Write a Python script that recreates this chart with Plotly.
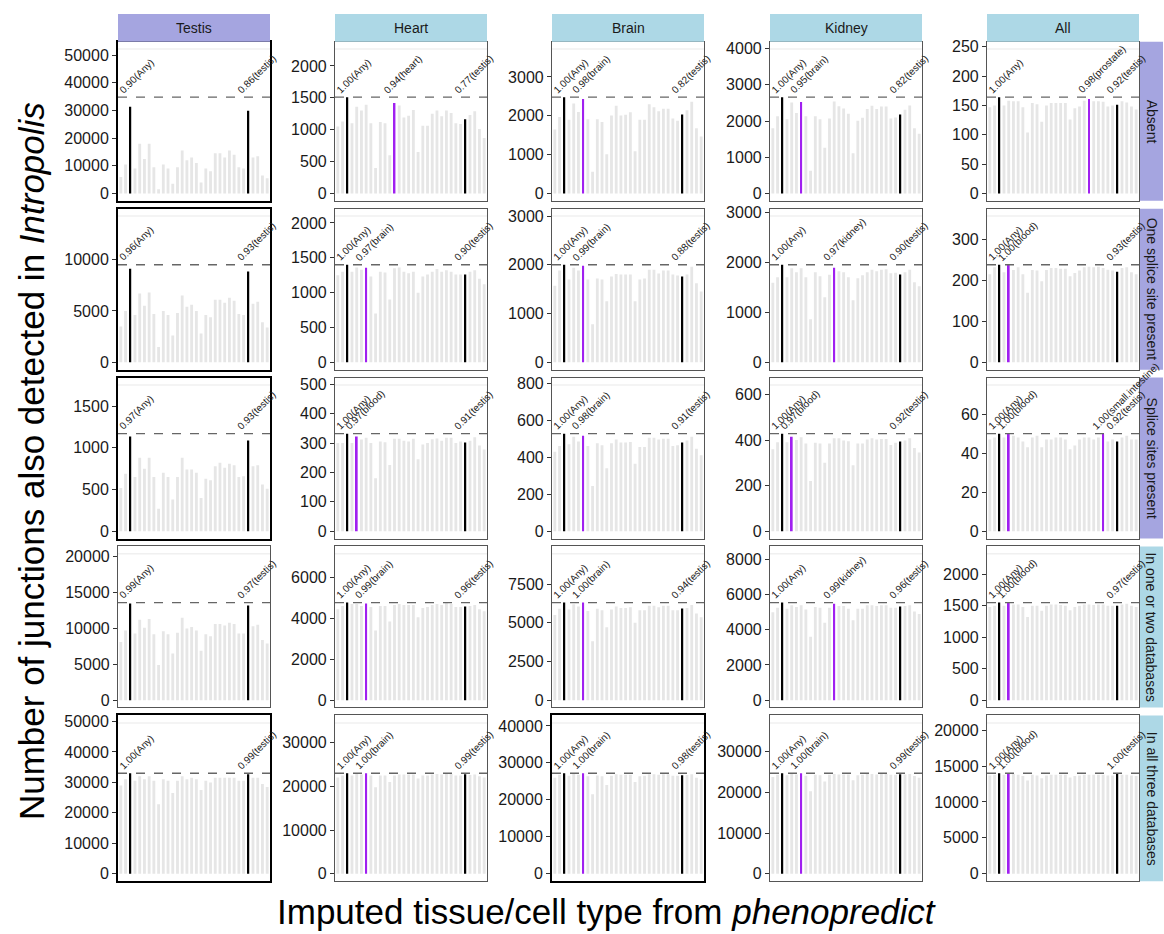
import plotly.graph_objects as go

# ---------------- data ----------------
tissues = ["adipose", "adrenal", "Any", "bladder", "blood", "blood.vessel", "brain", "breast",
           "cervix", "colon", "esophagus", "fallopian.tube", "heart", "kidney", "liver", "lung",
           "muscle", "nerve", "ovary", "pancreas", "pituitary", "prostate", "salivary", "skin",
           "small.intestine", "spleen", "stomach", "testis", "thyroid", "uterus", "vagina", "other"]

col_names = ["Testis", "Heart", "Brain", "Kidney", "All"]
row_names = ["Absent", "One splice site present", "Splice sites present",
             "In one or two databases", "In all three databases"]

# total junctions per panel (dashed line)
totals_absent = [34800, 1510, 2480, 2660, 164]
totals_one = [9500, 1400, 2000, 1950, 238]
totals_splice = [1170, 332, 527, 428, 50]
totals_oneortwo = [13600, 4770, 6300, 5550, 1550]
totals_allthree = [33000, 23000, 27200, 24700, 14000]

# y tick steps per panel
dtick_absent = [10000, 500, 1000, 1000, 50]
dtick_one = [5000, 500, 1000, 1000, 100]
dtick_splice = [500, 100, 200, 200, 20]
dtick_oneortwo = [5000, 2000, 2500, 2000, 500]
dtick_allthree = [10000, 10000, 10000, 10000, 5000]

# junction counts per imputed tissue
absent_testis = [6000, 10500, 31300, 9000, 18000, 12500, 18000, 9500, 1500, 10500, 9000, 3500, 9500, 15500, 12000, 13000,
                 11000, 4000, 9000, 8000, 14500, 14500, 13000, 15500, 14000, 9500, 9000, 29900, 13000, 13500, 6500, 5500]
absent_heart = [1050, 1130, 1510, 1100, 1360, 1300, 1390, 1100, 400, 1120, 1100, 600, 1420, 1380, 1190, 1220,
                1310, 650, 1060, 1060, 1250, 1300, 1210, 1300, 1260, 1100, 1090, 1163, 1230, 1290, 1010, 870]
absent_brain = [1650, 1970, 2480, 1900, 2320, 2100, 2430, 1910, 560, 1910, 1840, 1010, 2010, 2260, 2010, 2030,
                2090, 1090, 1900, 1900, 2300, 2220, 2120, 2180, 2180, 1930, 1870, 2034, 2140, 2360, 1680, 1470]
absent_kidney = [1800, 2130, 2660, 2050, 2510, 2220, 2527, 2130, 630, 2130, 2050, 1260, 2070, 2540, 2410, 2350,
                 2200, 1110, 2010, 2090, 2330, 2420, 2330, 2400, 2400, 2070, 2100, 2181, 2310, 2430, 1800, 1650]
absent_all = [147, 150, 164, 150, 158, 157, 157, 147, 104, 154, 152, 122, 150, 154, 154, 154,
              154, 126, 145, 148, 158, 161, 157, 157, 156, 148, 150, 151, 157, 155, 148, 143]

one_testis = [3500, 5000, 9120, 4600, 6700, 5500, 6800, 4700, 1500, 5000, 4600, 2600, 4800, 6500, 5400, 5600,
              5000, 2800, 4600, 4400, 6100, 6100, 5800, 6300, 6000, 4700, 4600, 8835, 5700, 5900, 3900, 3400]
one_heart = [1250, 1300, 1400, 1300, 1360, 1330, 1358, 1230, 700, 1300, 1290, 900, 1350, 1360, 1300, 1280,
             1300, 1000, 1230, 1260, 1300, 1340, 1300, 1320, 1300, 1260, 1260, 1260, 1300, 1320, 1200, 1120]
one_brain = [1570, 1880, 2000, 1700, 1940, 1880, 1980, 1700, 780, 1720, 1700, 1250, 1760, 1810, 1800, 1800,
             1800, 1250, 1700, 1720, 1900, 1900, 1820, 1880, 1880, 1800, 1780, 1760, 1800, 1960, 1620, 1450]
one_kidney = [1590, 1700, 1950, 1700, 1880, 1800, 1880, 1700, 860, 1800, 1720, 1300, 1750, 1890, 1820, 1800,
              1700, 1240, 1680, 1740, 1800, 1850, 1820, 1850, 1860, 1780, 1790, 1755, 1800, 1850, 1600, 1520]
one_all = [215, 232, 238, 220, 238, 225, 232, 215, 170, 225, 224, 198, 225, 230, 230, 228,
           228, 210, 218, 224, 232, 233, 232, 233, 230, 226, 224, 221, 230, 232, 220, 215]

splice_testis = [520, 690, 1135, 650, 880, 750, 880, 650, 270, 700, 650, 380, 650, 880, 740, 740,
                 700, 400, 630, 610, 780, 820, 760, 810, 790, 650, 660, 1088, 780, 790, 560, 510]
splice_heart = [300, 300, 332, 300, 322, 312, 318, 300, 180, 305, 303, 225, 315, 315, 308, 305,
                315, 245, 295, 300, 313, 316, 308, 318, 318, 300, 305, 302, 308, 320, 292, 278]
splice_brain = [430, 460, 527, 470, 510, 485, 516, 460, 245, 475, 465, 340, 475, 495, 480, 480,
                482, 365, 455, 455, 505, 505, 495, 500, 500, 460, 465, 480, 490, 510, 445, 410]
splice_kidney = [360, 390, 428, 390, 415, 400, 412, 385, 220, 388, 385, 300, 385, 408, 408, 398,
                 395, 290, 385, 385, 402, 408, 402, 405, 405, 378, 388, 394, 398, 408, 365, 345]
splice_all = [47, 48, 50, 48, 50, 49, 48, 46, 43, 48, 49, 43, 47, 47, 48, 48,
              47, 42, 44, 47, 48, 48, 47, 48, 50, 46, 47, 46, 48, 49, 47, 47]

oneortwo_testis = [8100, 9700, 13460, 9300, 11200, 10100, 11300, 9200, 4900, 9600, 9200, 6500, 9400, 11500, 10000, 10200,
                   9700, 6900, 9200, 8900, 10600, 10600, 10400, 10800, 10600, 9300, 9300, 13190, 10300, 10500, 8400, 7900]
oneortwo_heart = [4450, 4600, 4770, 4700, 4700, 4600, 4720, 4550, 3400, 4600, 4600, 3850, 4650, 4700, 4650, 4650,
                  4650, 4050, 4500, 4550, 4650, 4700, 4650, 4750, 4700, 4550, 4550, 4580, 4600, 4650, 4450, 4350]
oneortwo_brain = [5500, 5900, 6300, 5850, 6200, 6050, 6300, 5750, 3800, 5900, 5800, 4700, 5850, 6050, 5950, 5950,
                  6000, 5000, 5800, 5800, 6100, 6100, 6000, 6100, 6100, 5800, 5800, 5920, 5950, 6150, 5600, 5350]
oneortwo_kidney = [5000, 5250, 5550, 5200, 5400, 5300, 5400, 5150, 3600, 5300, 5250, 4400, 5250, 5490, 5350, 5350,
                   5200, 4550, 5200, 5200, 5400, 5400, 5350, 5400, 5400, 5250, 5250, 5330, 5350, 5400, 5050, 4900]
oneortwo_all = [1480, 1500, 1550, 1500, 1550, 1520, 1520, 1480, 1320, 1500, 1500, 1420, 1500, 1520, 1520, 1510,
                1500, 1430, 1480, 1500, 1520, 1520, 1510, 1520, 1520, 1500, 1500, 1500, 1520, 1530, 1500, 1480]

allthree_testis = [29000, 31000, 33000, 30500, 32000, 31000, 32000, 30500, 22800, 31000, 30500, 26500, 30500, 32000, 31000, 31500,
                   31000, 27500, 30500, 30000, 31500, 31500, 31500, 31500, 31500, 30500, 30500, 32670, 31500, 31500, 29500, 28500]
allthree_heart = [22000, 22500, 23000, 22500, 22800, 22700, 23000, 22500, 19800, 22500, 22500, 21000, 22500, 22700, 22700, 22700,
                  22700, 21800, 22500, 22500, 22700, 22800, 22700, 22800, 22800, 22500, 22500, 22770, 22600, 22700, 22300, 22000]
allthree_brain = [26000, 26800, 27200, 26500, 27000, 26800, 27200, 26400, 21500, 26600, 26400, 24000, 26500, 26900, 26800, 26800,
                  26800, 24800, 26400, 26500, 26900, 26900, 26800, 26900, 26900, 26500, 26500, 26650, 26700, 26900, 26000, 25500]
allthree_kidney = [23800, 24300, 24700, 24200, 24500, 24400, 24700, 24100, 20300, 24300, 24200, 22700, 24300, 24500, 24400, 24400,
                   24400, 23000, 24200, 24300, 24500, 24500, 24400, 24500, 24500, 24300, 24300, 24450, 24400, 24500, 24000, 23600]
allthree_all = [13700, 13800, 14000, 13800, 14000, 13900, 13800, 13600, 13000, 13800, 13700, 13300, 13700, 13800, 13800, 13800,
                13800, 13400, 13600, 13700, 13800, 13800, 13800, 13800, 13800, 13700, 13700, 14000, 13800, 13800, 13700, 13600]

# highlighted tissues and their ratio labels
labels_absent = [[("Any", 0.90), ("testis", 0.86)],
                 [("Any", 1.00), ("heart", 0.94), ("testis", 0.77)],
                 [("Any", 1.00), ("brain", 0.98), ("testis", 0.82)],
                 [("Any", 1.00), ("brain", 0.95), ("testis", 0.82)],
                 [("Any", 1.00), ("prostate", 0.98), ("testis", 0.92)]]
labels_one = [[("Any", 0.96), ("testis", 0.93)],
              [("Any", 1.00), ("brain", 0.97), ("testis", 0.90)],
              [("Any", 1.00), ("brain", 0.99), ("testis", 0.88)],
              [("Any", 1.00), ("kidney", 0.97), ("testis", 0.90)],
              [("Any", 1.00), ("blood", 1.00), ("testis", 0.93)]]
labels_splice = [[("Any", 0.97), ("testis", 0.93)],
                 [("Any", 1.00), ("blood", 0.97), ("testis", 0.91)],
                 [("Any", 1.00), ("brain", 0.98), ("testis", 0.91)],
                 [("Any", 1.00), ("blood", 0.97), ("testis", 0.92)],
                 [("Any", 1.00), ("blood", 1.00), ("small.intestine", 1.00), ("testis", 0.92)]]
labels_oneortwo = [[("Any", 0.99), ("testis", 0.97)],
                   [("Any", 1.00), ("brain", 0.99), ("testis", 0.96)],
                   [("Any", 1.00), ("brain", 1.00), ("testis", 0.94)],
                   [("Any", 1.00), ("kidney", 0.99), ("testis", 0.96)],
                   [("Any", 1.00), ("blood", 1.00), ("testis", 0.97)]]
labels_allthree = [[("Any", 1.00), ("testis", 0.99)],
                   [("Any", 1.00), ("brain", 1.00), ("testis", 0.99)],
                   [("Any", 1.00), ("brain", 1.00), ("testis", 0.98)],
                   [("Any", 1.00), ("brain", 1.00), ("testis", 0.99)],
                   [("Any", 1.00), ("blood", 1.00), ("testis", 1.00)]]

data = [[absent_testis, absent_heart, absent_brain, absent_kidney, absent_all],
        [one_testis, one_heart, one_brain, one_kidney, one_all],
        [splice_testis, splice_heart, splice_brain, splice_kidney, splice_all],
        [oneortwo_testis, oneortwo_heart, oneortwo_brain, oneortwo_kidney, oneortwo_all],
        [allthree_testis, allthree_heart, allthree_brain, allthree_kidney, allthree_all]]
totals = [totals_absent, totals_one, totals_splice, totals_oneortwo, totals_allthree]
dticks = [dtick_absent, dtick_one, dtick_splice, dtick_oneortwo, dtick_allthree]
labels = [labels_absent, labels_one, labels_splice, labels_oneortwo, labels_allthree]

# ---------------- layout geometry ----------------
W, H = 1164, 934
col_left = [118, 335, 552, 770, 987]
col_w = 152
row_top = [37, 205, 375, 545, 715]
row_bot = [197, 367, 537, 707, 882]
thick_panels = {(0, 0), (1, 0), (2, 0), (4, 0), (4, 2)}

PURPLE_STRIP = "#a5a5e0"
BLUE_STRIP = "#add8e6"
FONT = "Liberation Sans, Arial, sans-serif"

fig = go.Figure()
layout = dict(width=W, height=H, margin=dict(l=0, r=0, t=0, b=0),
              paper_bgcolor="white", plot_bgcolor="white", barmode="overlay",
              showlegend=False, font=dict(family=FONT, color="#1a1a1a"))
shapes = []
annotations = []

xs = list(range(1, len(tissues) + 1))

for r in range(5):
    for c in range(5):
        i = r * 5 + c + 1
        sfx = "" if i == 1 else str(i)
        vals = data[r][c]
        T = totals[r][c]
        labs = labels[r][c]
        hl_idx = {tissues.index(t) for t, _ in labs}

        gray_y = [None if k in hl_idx else v for k, v in enumerate(vals)]
        fig.add_trace(go.Bar(x=xs, y=gray_y, width=0.6, marker=dict(color="#e6e6e6", line_width=0),
                             xaxis="x" + sfx, yaxis="y" + sfx, hoverinfo="skip"))
        for t, ratio in labs:
            k = tissues.index(t)
            color = "black" if t in ("Any", "testis") else "#a020f0"
            fig.add_trace(go.Bar(x=[xs[k]], y=[vals[k]], width=0.4,
                                 marker=dict(color=color, line_width=0),
                                 xaxis="x" + sfx, yaxis="y" + sfx, hoverinfo="skip"))
            annotations.append(dict(x=xs[k], y=T, xref="x" + sfx, yref="y" + sfx,
                                    text=f"{ratio:.2f}({t})", textangle=-45,
                                    xanchor="left", yanchor="bottom", xshift=-16, yshift=-1,
                                    showarrow=False, font=dict(size=10, color="#1a1a1a", family=FONT)))

        thick = (r, c) in thick_panels
        lc = "black" if thick else "#555555"
        lw = 2 if thick else 1.2
        layout["xaxis" + sfx] = dict(domain=[col_left[c] / W, (col_left[c] + col_w) / W],
                                     anchor="y" + sfx, range=[0.4, len(tissues) + 0.6],
                                     showticklabels=False, ticks="", showgrid=False, zeroline=False,
                                     showline=True, mirror=True, linecolor=lc, linewidth=lw, fixedrange=True)
        layout["yaxis" + sfx] = dict(domain=[1 - row_bot[r] / H, 1 - row_top[r] / H],
                                     anchor="x" + sfx, range=[-0.075 * T, 1.575 * T],
                                     tick0=0, dtick=dticks[r][c], tickformat="d",
                                     ticks="outside", ticklen=4,
                                     tickcolor="#333333", tickwidth=1,
                                     tickfont=dict(size=16, color="#1a1a1a", family=FONT),
                                     showgrid=False, zeroline=False, showline=True, mirror=True,
                                     linecolor=lc, linewidth=lw, fixedrange=True)
        # faint line at top of data range
        shapes.append(dict(type="line", xref="x" + sfx + " domain", yref="y" + sfx,
                           x0=0, x1=1, y0=1.5 * T, y1=1.5 * T,
                           line=dict(color="#f0f0f0", width=1.5), layer="below"))
        # dashed total line
        shapes.append(dict(type="line", xref="x" + sfx + " domain", yref="y" + sfx,
                           x0=0, x1=1, y0=T, y1=T,
                           line=dict(color="#666666", width=1.3, dash="dash")))

# top strips
for c, name in enumerate(col_names):
    x0, x1 = col_left[c], col_left[c] + col_w
    shapes.append(dict(type="rect", xref="paper", yref="paper",
                       x0=x0 / W, x1=x1 / W, y0=1 - 37 / H, y1=1 - 9 / H,
                       fillcolor=PURPLE_STRIP if name == "Testis" else BLUE_STRIP, line_width=0))
    annotations.append(dict(x=(x0 + x1) / 2 / W, y=1 - 23 / H, xref="paper", yref="paper",
                            xanchor="center", yanchor="middle",
                            text=name, showarrow=False, font=dict(size=14, color="#1a1a1a", family=FONT)))

# right strips
for r, name in enumerate(row_names):
    y0, y1 = row_top[r], row_bot[r]
    shapes.append(dict(type="rect", xref="paper", yref="paper",
                       x0=1140 / W, x1=1163 / W, y0=1 - y1 / H, y1=1 - y0 / H,
                       fillcolor=PURPLE_STRIP if r < 3 else BLUE_STRIP, line_width=0))
    annotations.append(dict(x=1151.5 / W, y=1 - (y0 + y1) / 2 / H, xref="paper", yref="paper",
                            xanchor="center", yanchor="middle",
                            text=name, textangle=90, showarrow=False,
                            font=dict(size=14, color="#1a1a1a", family=FONT)))

# axis titles
annotations.append(dict(x=31 / W, y=1 - 459 / H, xref="paper", yref="paper",
                        xanchor="center", yanchor="middle",
                        text="Number of junctions also detected in <i>Intropolis</i>",
                        textangle=-90, showarrow=False, font=dict(size=35, color="black", family=FONT)))
annotations.append(dict(x=606 / W, y=1 - 912 / H, xref="paper", yref="paper",
                        xanchor="center", yanchor="middle",
                        text="Imputed tissue/cell type from <i>phenopredict</i>",
                        showarrow=False, font=dict(size=35, color="black", family=FONT)))

layout["shapes"] = shapes
layout["annotations"] = annotations
fig.update_layout(**layout)
fig.write_html("out.html")
